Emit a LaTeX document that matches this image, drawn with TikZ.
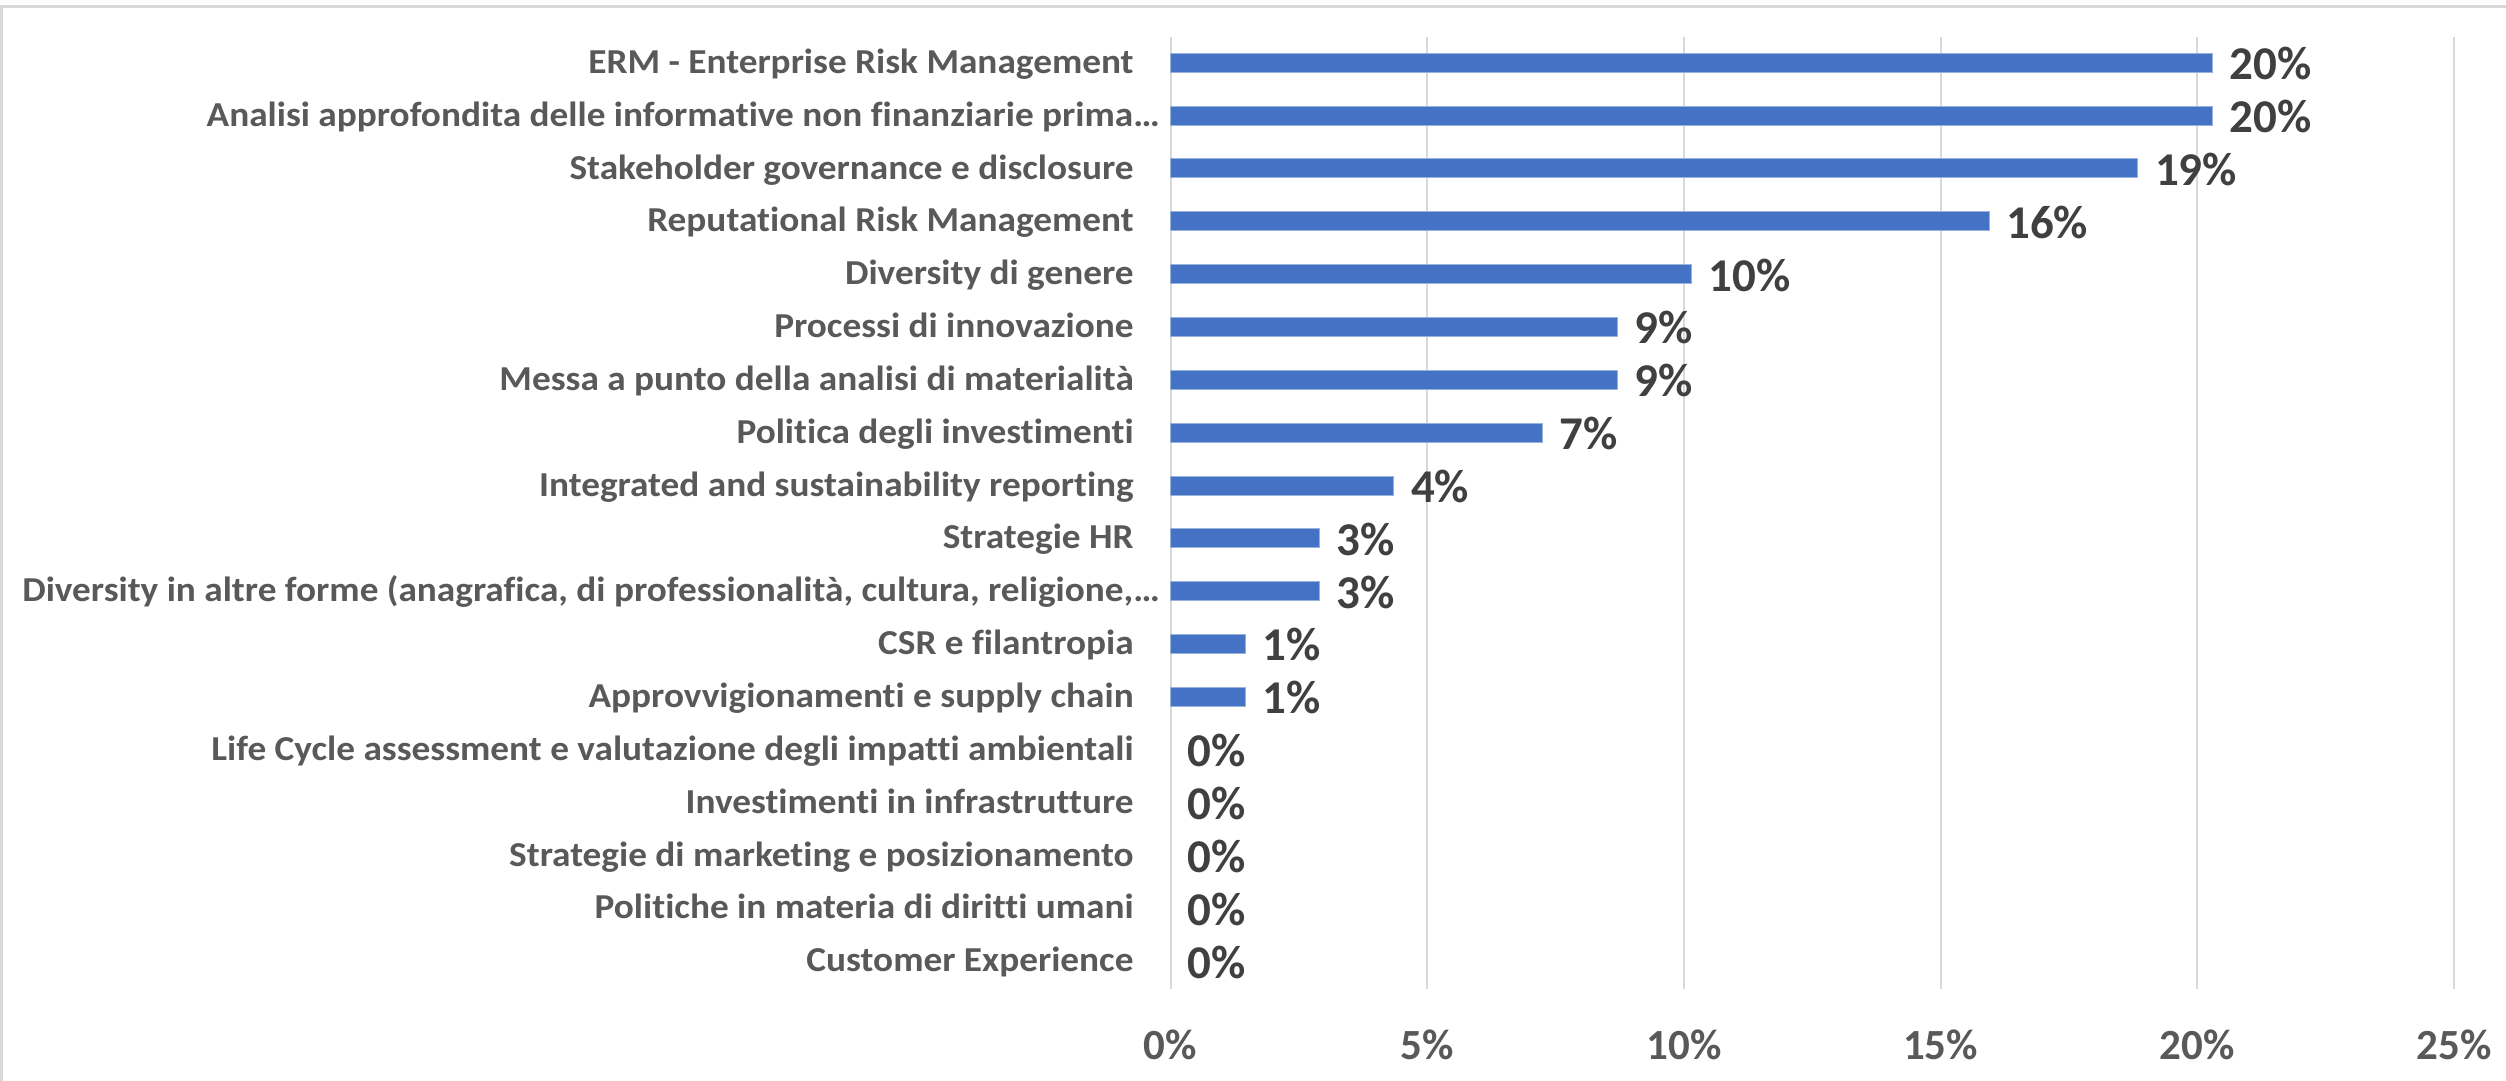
\documentclass[tikz,border=0pt]{standalone}
\usepackage{fontspec}
\setmainfont{Carlito}[Ligatures={NoCommon}]
\definecolor{catgray}{HTML}{595959}
\definecolor{valgray}{HTML}{404040}
\definecolor{gridgray}{HTML}{D9D9D9}
\definecolor{barblue}{HTML}{4472C4}
\newcommand{\catw}[1]{\scalebox{1.065}[1]{#1}}
\begin{document}
\begin{tikzpicture}[x=0.5pt,y=-0.5pt,
  catlabel/.style={anchor=base east, text=catgray, font=\bfseries\fontsize{17.5}{20}\selectfont, inner sep=0pt},
  vallabel/.style={anchor=base west, text=valgray, font=\bfseries\fontsize{23.5}{26}\selectfont, inner sep=0pt},
  axlabel/.style={anchor=base, text=catgray, font=\bfseries\fontsize{21.5}{24}\selectfont, inner sep=0pt},
  gridline/.style={draw=gridgray, line width=1pt},
  border/.style={draw=gridgray, line width=1.5pt},
  barfill/.style={fill=barblue, draw=barblue!55!white, line width=0.4pt}]
\useasboundingbox (0,0) rectangle (2506,1081);
\fill[white] (0,0) rectangle (2506,1081);
% chart border
\draw[border] (1,1081) -- (1,7) -- (2506,7);
% gridlines
\foreach \k/\t in {0/0\%,1/5\%,2/10\%,3/15\%,4/20\%,5/25\%}{
  \draw[gridline] ({1170.5+\k*256.7},36.7) -- ({1170.5+\k*256.7},989);
  \node[axlabel] (ax\k) at ({1170.5+\k*256.7},1059.3) {\t};
}
% bars
\foreach \i/\c/\v/\lab/\rx in {
  0/14/20\%/{ERM - Enterprise Risk Management}/1134,
  1/14/20\%/{Analisi approfondita delle informative non finanziarie prima…}/1160,
  2/13/19\%/{Stakeholder governance e disclosure}/1134,
  3/11/16\%/{Reputational Risk Management}/1134,
  4/7/10\%/{Diversity di genere}/1134,
  5/6/9\%/{Processi di innovazione}/1134,
  6/6/9\%/{Messa a punto della analisi di materialità}/1134,
  7/5/7\%/{Politica degli investimenti}/1134,
  8/3/4\%/{Integrated and sustainability reporting}/1134,
  9/2/3\%/{Strategie HR}/1134,
  10/2/3\%/{Diversity in altre forme (anagrafica, di professionalità, cultura, religione,…}/1160,
  11/1/1\%/{CSR e filantropia}/1134,
  12/1/1\%/{Approvvigionamenti e supply chain}/1134,
  13/0/0\%/{Life Cycle assessment e valutazione degli impatti ambientali}/1134,
  14/0/0\%/{Investimenti in infrastrutture}/1134,
  15/0/0\%/{Strategie di marketing e posizionamento}/1134,
  16/0/0\%/{Politiche in materia di diritti umani}/1134,
  17/0/0\%/{Customer Experience}/1134}{
  \pgfmathsetmacro{\yc}{62.6+\i*52.85}
  \pgfmathsetmacro{\xe}{1170.5+\c*74.4}
  \ifnum\c>0
    \path[barfill] (1170.5,{\yc-9.5}) rectangle (\xe,{\yc+9.5});
  \fi
  \node[catlabel] (cat\i) at (\rx,{\yc+10.7}) {\catw{\lab}};
  \node[vallabel] (val\i) at ({\xe+17},{\yc+17}) {\v};
}
\end{tikzpicture}
\end{document}
